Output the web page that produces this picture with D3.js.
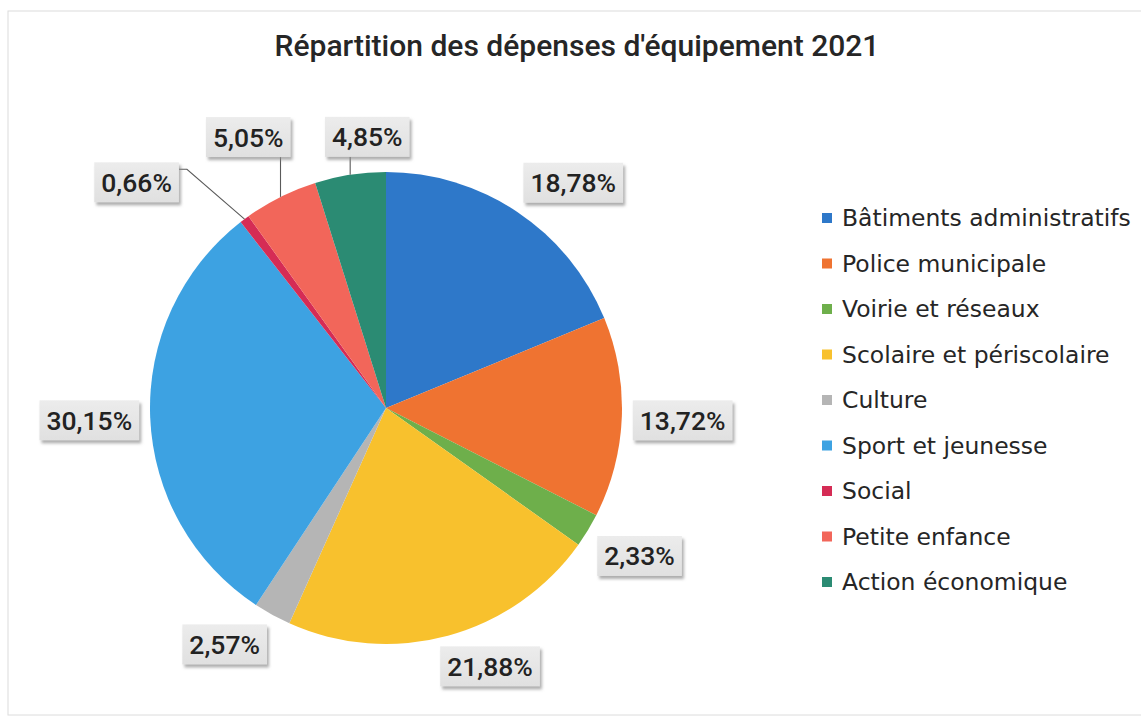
<html>
  <head>
    <meta charset="utf-8">
    <title>Répartition des dépenses d'équipement 2021</title>
    <script src="https://d3js.org/d3.v7.min.js"></script>
    <style>
      body { margin: 0; background: #fff; }
      svg { display: block; }
    </style>
  </head>
  <body>
    <svg id="chart" width="1141" height="720"></svg>
    <script>
      // data
      var categories = ["Bâtiments administratifs", "Police municipale", "Voirie et réseaux",
        "Scolaire et périscolaire", "Culture", "Sport et jeunesse", "Social",
        "Petite enfance", "Action économique"];
      var shares = [18.78, 13.72, 2.33, 21.88, 2.57, 30.15, 0.66, 5.05, 4.85];
      var labels = ["18,78%", "13,72%", "2,33%", "21,88%", "2,57%", "30,15%", "0,66%", "5,05%", "4,85%"];
      var colors = ["#2E78C9", "#EF7331", "#6EAF4B", "#F8C12D", "#B5B5B5",
        "#3DA2E2", "#D52C55", "#F2665A", "#2B8B73"];
      // manual moves of crowded labels (like dragged in the spreadsheet)
      var labelNudge = [[0,0],[0,0],[0,0],[0,0],[0,0],[0,0],[-59,-8],[15,-30],[38,-7]];

      var svg = d3.select("#chart");
      var cx = 386, cy = 408, R = 236;

      // chart border
      svg.append("rect").attr("x", 8).attr("y", 11).attr("width", 1150).attr("height", 704)
        .attr("fill", "none").attr("stroke", "#dcdcdc");

      var defs = svg.append("defs");
      var f = defs.append("filter").attr("id", "shadow").attr("x", "-20%").attr("y", "-30%")
        .attr("width", "140%").attr("height", "170%");
      f.append("feDropShadow").attr("dx", 2).attr("dy", 3).attr("stdDeviation", 1.6)
        .attr("flood-color", "#8a8a8a").attr("flood-opacity", 0.7);
      var grad = defs.append("linearGradient").attr("id", "boxfill").attr("x1", 0).attr("y1", 0).attr("x2", 0).attr("y2", 1);
      grad.append("stop").attr("offset", "0%").attr("stop-color", "#ececec");
      grad.append("stop").attr("offset", "100%").attr("stop-color", "#e0e0e0");

      // title
      var title = svg.append("text").attr("x", 577).attr("y", 56).attr("text-anchor", "middle")
        .style("font-family", "Roboto").style("font-weight", 500).style("font-size", "24px")
        .attr("fill", "#262626").text("Répartition des dépenses d'équipement 2021");
      var tw = title.node().getComputedTextLength();
      title.style("font-size", (24 * 605 / tw) + "px");

      var pie = d3.pie().sort(null).value(function(d){ return d; });
      var arcs = pie(shares);
      var arc = d3.arc().innerRadius(0).outerRadius(R);

      var g = svg.append("g").attr("transform", "translate(" + cx + "," + cy + ")");
      g.selectAll("path").data(arcs).enter().append("path")
        .attr("d", arc)
        .attr("fill", function(d, i){ return colors[i]; });

      // labels
      var clamp = function(v){ return Math.max(-1, Math.min(1, v)); };
      var gap = 11, hh = 20, pad = 7;
      var lg = svg.append("g");
      arcs.forEach(function(d, i){
        var a = (d.startAngle + d.endAngle) / 2;
        var sx = Math.sin(a), sy = -Math.cos(a);
        var t = lg.append("text").attr("text-anchor", "middle")
          .style("font-family", "Roboto").style("font-weight", 500).style("font-size", "26.5px")
          .attr("fill", "#222").text(labels[i]);
        var w = t.node().getComputedTextLength();
        var hw = w / 2 + pad;
        var px = cx + (R + gap) * sx, py = cy + (R + gap) * sy;
        var bx = px + hw * clamp(3 * sx) + labelNudge[i][0];
        var by = py + hh * clamp(3 * sy) + labelNudge[i][1];

        // leader line for moved labels
        if (labelNudge[i][0] !== 0 || labelNudge[i][1] !== 0) {
          var ax = cx + R * sx, ay = cy + R * sy;
          var pts;
          if (ax > bx - hw && ax < bx + hw) {
            pts = [[ax, ay], [ax, by + hh]];
          } else {
            pts = [[ax, ay], [bx + hw + 8, by - hh + 7], [bx + hw, by - hh + 7]];
          }
          lg.insert("path", "text").attr("d", d3.line()(pts))
            .attr("fill", "none").attr("stroke", "#5a5a5a").attr("stroke-width", 1.1);
        }

        lg.insert("rect", "text").attr("x", bx - hw).attr("y", by - hh)
          .attr("width", hw * 2).attr("height", hh * 2)
          .attr("fill", "url(#boxfill)").attr("filter", "url(#shadow)");
        t.attr("x", bx).attr("y", by + 9.5);
      });

      // legend
      var legendY = d3.scalePoint().domain(categories).range([218, 582]);
      var leg = svg.append("g");
      var items = leg.selectAll("g").data(categories).enter().append("g")
        .attr("transform", function(d){ return "translate(822," + legendY(d) + ")"; });
      items.append("rect").attr("x", 0).attr("y", -5).attr("width", 10).attr("height", 10)
        .attr("fill", function(d, i){ return colors[i]; });
      var ltext = items.append("text").attr("x", 20).attr("y", 8)
        .style("font-family", "DejaVu Sans").style("font-size", "20px")
        .attr("fill", "#262626").text(function(d){ return d; });
      var lw = ltext.node().getComputedTextLength();
      ltext.style("font-size", (20 * 289 / lw) + "px");
    </script>
  </body>
</html>
